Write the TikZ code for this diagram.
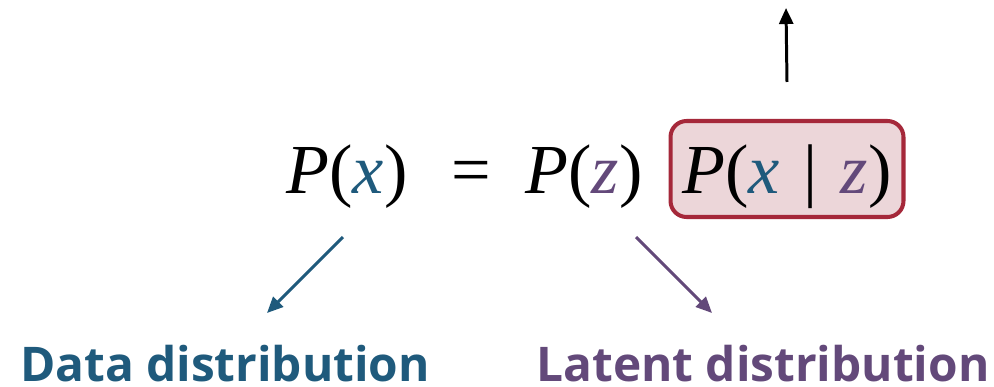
\documentclass[tikz,border=0pt]{standalone}
\usepackage{fontspec}
\usepackage{xcolor}
\usepackage{tikz}
\usetikzlibrary{positioning,arrows.meta,calc}
\setmainfont{Liberation Serif}
\newfontfamily\labelfont{Open Sans}
\definecolor{DataBlue}{RGB}{31,90,124}
\definecolor{LatentPurple}{RGB}{99,73,122}
\definecolor{BoxRed}{RGB}{165,40,58}
\definecolor{BoxFill}{RGB}{236,214,217}
\newcommand{\vx}{\textcolor{DataBlue}{\textit{x}}}
\newcommand{\vz}{\textcolor{LatentPurple}{\textit{z}}}

\begin{document}
\begin{tikzpicture}[x=0.02cm,y=-0.02cm,
eqn/.style={font=\fontsize{40}{44}\selectfont,inner sep=0pt,anchor=base},
lik/.style={draw=BoxRed,fill=BoxFill,line width=2.3pt,rounded corners=0.32cm,minimum width=4.66cm,minimum height=1.92cm,inner sep=0pt},
lbl/.style={font=\fontsize{27.2}{30}\selectfont\labelfont\bfseries,inner sep=0pt,anchor=base},
arr/.style={line width=1.7pt,-{Triangle[length=0.32cm,width=0.28cm]}}
]
\useasboundingbox (0,0) rectangle (994,386);
% formula
\node[eqn] (px) at (347,193) {\textit{P}(\vx)};
\node[eqn] (eq) at (471,193) {=};
\node[eqn] (pz) at (584,193) {\textit{P}(\vz)};
\node[lik] (pxz) at (787,169) {};
\node[eqn] (pxzt) at (787,193) {\textit{P}(\vx\,\,|\,\,\vz)};
% labels
\node[lbl,text=DataBlue] (dl) at (225,381) {Data distribution};
\node[lbl,text=LatentPurple] (ll) at (763,381) {Latent distribution};
% arrows
\coordinate (up) at (786,8);
\coordinate (xs) at (343,237);
\coordinate (xe) at (267,313);
\coordinate (zs) at (636,237);
\coordinate (ze) at (712,313);
\draw[arr] (pxz.north) ++(0,-37) -- (up);
\draw[arr,DataBlue] (xs) -- (xe);
\draw[arr,LatentPurple] (zs) -- (ze);
\end{tikzpicture}
\end{document}
